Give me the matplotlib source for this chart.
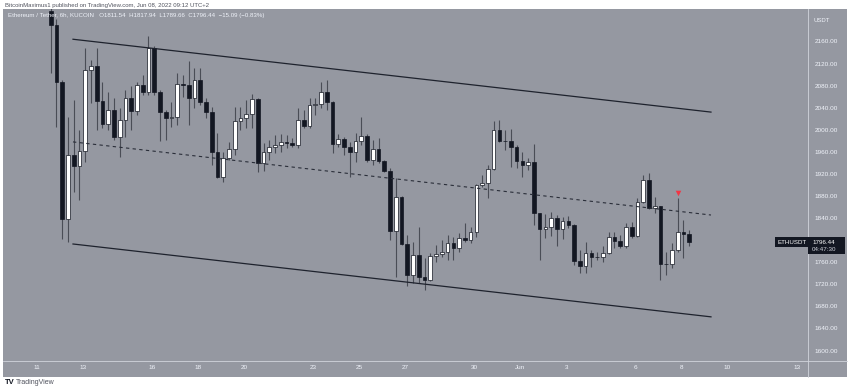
import matplotlib
matplotlib.use("Agg")
import matplotlib.pyplot as plt
import matplotlib.dates as mdates
from matplotlib.patches import Rectangle
from matplotlib.lines import Line2D
import pandas as pd
import numpy as np

plt.rcParams['font.family'] = ['Liberation Sans', 'DejaVu Sans']

# ---------------- data (ETH/USDT 6h, KuCoin) ----------------
start_time = "2022-05-11 14:00"
n_bars = 112
opens = [2215, 2190, 2086, 1838, 1954, 1935, 1961, 2108, 2116, 2052,
         2010, 2036, 1987, 2018, 2057, 2034, 2081, 2068, 2148, 2068,
         2032, 2022, 2024, 2082, 2081, 2058, 2091, 2050, 2033, 1960,
         1915, 1948, 1966, 2016, 2022, 2028, 2055, 1940, 1959, 1968,
         1972, 1978, 1976, 1972, 2018, 2007, 2045, 2046, 2069, 2051,
         1974, 1983, 1968, 1960, 1980, 1989, 1945, 1965, 1943, 1926,
         1817, 1878, 1793, 1737, 1773, 1734, 1728, 1772, 1774, 1779,
         1794, 1785, 1803, 1800, 1814, 1899, 1903, 1928, 2000, 1980,
         1979, 1968, 1944, 1936, 1941, 1849, 1820, 1823, 1841, 1820,
         1835, 1827, 1763, 1753, 1776, 1769, 1770, 1777, 1805, 1798,
         1789, 1824, 1808, 1870, 1909, 1859, 1861, 1756, 1757, 1783,
         1815, 1811.54]
highs = [2235, 2200, 2090, 2023, 2054, 2000, 2148, 2126, 2149, 2087,
         2068, 2057, 2039, 2072, 2080, 2087, 2099, 2169, 2152, 2072,
         2036, 2050, 2102, 2099, 2124, 2112, 2112, 2057, 2042, 1994,
         1960, 1978, 2042, 2041, 2054, 2065, 2058, 1976, 1981, 1990,
         1992, 1990, 1985, 2039, 2036, 2057, 2057, 2087, 2090, 2052,
         1993, 1986, 1978, 1994, 2023, 1992, 1981, 1985, 1945, 1930,
         1912, 1880, 1809, 1797, 1824, 1768, 1777, 1791, 1800, 1809,
         1806, 1813, 1831, 1823, 1902, 1918, 1936, 2016, 2018, 2000,
         2001, 1972, 1960, 1949, 1974, 1849, 1847, 1851, 1846, 1842,
         1844, 1829, 1782, 1797, 1782, 1779, 1789, 1815, 1815, 1809,
         1831, 1832, 1876, 1918, 1921, 1878, 1862, 1779, 1794, 1876,
         1837, 1817.94]
lows = [2103, 2005, 1802, 1797, 1887, 1873, 1942, 2048, 2000, 2003,
        2000, 1981, 1951, 1987, 2000, 2027, 2063, 2063, 2063, 1980,
        1981, 2005, 2009, 2060, 2009, 2039, 2045, 2021, 1936, 1912,
        1906, 1945, 1954, 2000, 2003, 2003, 1924, 1925, 1945, 1958,
        1960, 1967, 1969, 1967, 2003, 2003, 2027, 2039, 2036, 1958,
        1969, 1954, 1915, 1942, 1972, 1942, 1936, 1939, 1923, 1800,
        1734, 1791, 1716, 1722, 1723, 1710, 1726, 1760, 1769, 1764,
        1764, 1779, 1797, 1795, 1806, 1896, 1876, 1927, 1978, 1963,
        1933, 1931, 1914, 1927, 1827, 1764, 1804, 1808, 1789, 1802,
        1822, 1755, 1740, 1740, 1751, 1764, 1760, 1775, 1785, 1786,
        1785, 1804, 1806, 1867, 1856, 1849, 1728, 1737, 1750, 1779,
        1767, 1789.66]
closes = [2190, 2086, 1838, 1954, 1935, 1961, 2108, 2116, 2052, 2010,
          2036, 1987, 2018, 2057, 2034, 2081, 2068, 2148, 2068, 2032,
          2022, 2024, 2082, 2081, 2058, 2091, 2050, 2033, 1960, 1915,
          1948, 1966, 2016, 2022, 2028, 2055, 1940, 1959, 1968, 1972,
          1978, 1976, 1972, 2018, 2007, 2045, 2046, 2069, 2051, 1974,
          1983, 1968, 1960, 1980, 1989, 1945, 1965, 1943, 1926, 1817,
          1878, 1793, 1737, 1773, 1734, 1728, 1772, 1774, 1779, 1794,
          1785, 1803, 1800, 1814, 1899, 1903, 1928, 2000, 1980, 1979,
          1968, 1944, 1936, 1941, 1849, 1820, 1823, 1841, 1820, 1835,
          1827, 1763, 1753, 1776, 1769, 1770, 1777, 1805, 1798, 1789,
          1824, 1808, 1870, 1909, 1859, 1861, 1756, 1757, 1783, 1815,
          1811.54, 1796.44]

# channel (start/end time, prices)
channel_times = ["2022-05-12 13:18", "2022-06-09 06:43"]
upper_line = [2164, 2032]
middle_line = [1978, 1845.5]
lower_line = [1793, 1661]

marker_time = "2022-06-07 20:00"
marker_price = 1886

ytick_values = list(range(1600, 2161, 40))
xtick_dates = ["2022-05-11", "2022-05-13", "2022-05-16", "2022-05-18", "2022-05-20",
               "2022-05-23", "2022-05-25", "2022-05-27", "2022-05-30", "2022-06-01",
               "2022-06-03", "2022-06-06", "2022-06-08", "2022-06-10", "2022-06-13"]
xtick_labels = ["11", "13", "16", "18", "20", "23", "25", "27", "30", "Jun",
                "3", "6", "8", "10", "13"]

last_price = 1796.44

# ---------------- styling ----------------
W, H = 850, 390
BG = "#9598a1"
DARK = "#131722"
WICK = "#4a4d56"
TXT = "#f0f3fa"

fig = plt.figure(figsize=(W / 100, H / 100), dpi=100, facecolor="white")

def fx(px):
    return px / W

def fy(py):
    return 1 - py / H

# panel background
fig.patches.append(Rectangle((fx(3), fy(377)), fx(844), (377 - 9) / H,
                             transform=fig.transFigure, facecolor=BG,
                             edgecolor="none", zorder=-5))

plot_l, plot_r, plot_t, plot_b = 3, 808, 9, 361
ax = fig.add_axes([fx(plot_l), fy(plot_b), (plot_r - plot_l) / W, (plot_b - plot_t) / H])
ax.set_facecolor(BG)
ax.set_zorder(1)

times = pd.date_range(start_time, periods=n_bars, freq="6h")
x = mdates.date2num(times)
o = np.array(opens, float)
h = np.array(highs, float)
l = np.array(lows, float)
c = np.array(closes, float)

ax.vlines(x, l, h, color=WICK, lw=0.8, zorder=2)
up = c >= o
bottoms = np.minimum(o, c)
heights = np.maximum(np.abs(c - o), 1.2)
ax.bar(x[up], heights[up], bottom=bottoms[up], width=0.16, color="white",
       edgecolor=DARK, lw=0.5, zorder=3)
ax.bar(x[~up], heights[~up], bottom=bottoms[~up], width=0.16, color=DARK,
       edgecolor=DARK, lw=0.5, zorder=3)

ct = mdates.date2num(pd.to_datetime(channel_times))
ax.plot(ct, upper_line, color="#1e222d", lw=0.9, zorder=4)
ax.plot(ct, lower_line, color="#1e222d", lw=0.9, zorder=4)
ax.plot(ct, middle_line, color="#2a2e39", lw=0.8, ls=(0, (3, 3)), zorder=4)

ax.scatter([mdates.date2num(pd.Timestamp(marker_time))], [marker_price], marker="v",
           s=16, color="#f23645", zorder=5, linewidths=0)

day0 = mdates.date2num(pd.Timestamp("2022-05-11"))
ax.set_xlim(day0 - 1.488, day0 + 33.496)
ax.set_ylim(1581, 2218.8)

ax.yaxis.tick_right()
ax.set_yticks(ytick_values)
ax.set_yticklabels(["" if v == 1800 else f"{v:.2f}" for v in ytick_values])
ax.tick_params(axis="y", length=0, pad=5, labelsize=4.6, labelcolor=TXT)
ax.set_xticks(mdates.date2num(pd.to_datetime(xtick_dates)))
ax.set_xticklabels(xtick_labels)
ax.tick_params(axis="x", length=0, pad=3.2, labelsize=4.6, labelcolor=TXT)
for s in ax.spines.values():
    s.set_visible(False)

# separators
fig.add_artist(Line2D([fx(plot_r), fx(plot_r)], [fy(9), fy(377)], color="#d1d4dc", lw=0.6, zorder=2))
fig.add_artist(Line2D([fx(3), fx(847)], [fy(plot_b), fy(plot_b)], color="#d1d4dc", lw=0.6, zorder=2))

# header
fig.text(fx(5), fy(5), "BitcoinMaximus1 published on TradingView.com, Jun 08, 2022 09:12 UTC+2",
         fontsize=4.3, color="#50535e", va="center", ha="left")
fig.text(fx(8), fy(15), "Ethereum / Tether, 6h, KUCOIN   O1811.54  H1817.94  L1789.66  C1796.44  \u221215.09 (\u22120.83%)",
         fontsize=4.4, color=TXT, va="center", ha="left", zorder=6)
fig.text(fx(813), fy(20), "USDT", fontsize=4.3, color=TXT, va="center", ha="left", zorder=6)

# last price label
ly_px = plot_t + (2218.8 - last_price) / (2218.8 - 1581) * (plot_b - plot_t)
fig.text(fx(792), fy(ly_px), "ETHUSDT", fontsize=4.4, color="white", va="center", ha="center",
         zorder=7, bbox=dict(boxstyle="square,pad=0.35", fc=DARK, ec="none"))
fig.patches.append(Rectangle((fx(808), fy(ly_px + 12)), fx(37), 17 / H,
                             transform=fig.transFigure, facecolor=DARK, edgecolor="none", zorder=6))
fig.text(fx(812), fy(ly_px), f"{last_price:.2f}", fontsize=4.5, color="white",
         va="center", ha="left", zorder=7)
fig.text(fx(812), fy(ly_px + 7.5), "04:47:30", fontsize=4.5, color="#d1d4dc",
         va="center", ha="left", zorder=7)

# footer logo
fig.text(fx(5), fy(382), "TV", fontsize=5.5, color="#131722", fontweight="bold", va="center")
fig.text(fx(16), fy(382), "TradingView", fontsize=5, color="#50535e", va="center")

fig.savefig("out.png", dpi=100, facecolor="white")
